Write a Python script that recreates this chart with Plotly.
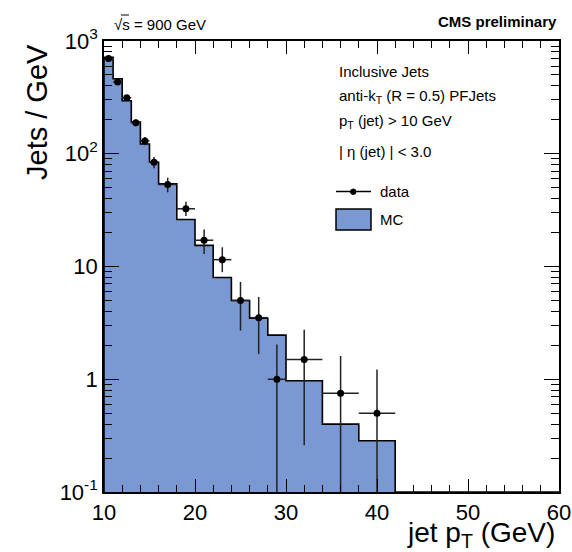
import plotly.graph_objects as go
import numpy as np

# ---- data ----
bin_edges = [10, 11, 12, 13, 14, 15, 16, 18, 20, 22, 24, 26, 28, 30, 34, 38, 42]
mc_values = [716, 463, 295, 191, 122, 84, 54, 26.1, 15.4, 8.0, 5.0, 3.48, 2.46, 0.97, 0.40, 0.285]

data_x = [10.5, 11.5, 12.5, 13.5, 14.5, 15.5, 17, 19, 21, 23, 25, 27, 29, 32, 36, 40]
data_y = [700, 433, 314, 188, 130, 84, 53.4, 32.5, 17.1, 11.5, 5.0, 3.52, 1.0, 1.5, 0.75, 0.5]
data_err_up = [26, 20, 17, 13, 11, 9.5, 7.9, 5.0, 4.2, 3.3, 2.3, 1.85, 1.03, 1.25, 0.86, 0.72]
data_err_down = [26, 20, 17, 13, 11, 9.5, 7.9, 4.5, 4.2, 2.6, 2.3, 1.85, 1.0, 1.24, 0.75, 0.5]

x_tick_vals = [10, 20, 30, 40, 50, 60]
y_tick_vals = [0.1, 1, 10, 100, 1000]
y_tick_text = ["10<sup>-1</sup>", "1", "10", "10<sup>2</sup>", "10<sup>3</sup>"]

# ---- geometry ----
W, H = 572, 552
L, R, T, B = 104, 13, 41, 60
PW, PH = W - L - R, H - T - B
X_MIN, X_MAX = 10, 60
Y_MIN, Y_MAX = 0.1, 1000

def px(xp):
    return (xp - L) / PW

def py(yp):
    return (H - B - yp) / PH

FILL = "#7a98d2"
FONT = "Liberation Sans, Arial, Helvetica, sans-serif"

edges = np.array(bin_edges, dtype=float)
widths = edges[1:] - edges[:-1]
half_w = []
for xv in data_x:
    i = int(np.searchsorted(edges, xv) - 1)
    half_w.append(widths[i] / 2)

fig = go.Figure()

# MC histogram: filled step polygon with black outline
poly_x = [edges[0]] + list(edges[:-1]) + [edges[-1], X_MAX]
poly_y = [Y_MIN] + list(mc_values) + [Y_MIN, Y_MIN]
fig.add_trace(go.Scatter(
    x=poly_x, y=poly_y, mode="lines", fill="toself", fillcolor=FILL,
    line=dict(color="black", width=1.6, shape="hv"),
    hoverinfo="skip", showlegend=False,
))

# data points
fig.add_trace(go.Scatter(
    x=data_x, y=data_y, mode="markers",
    marker=dict(color="black", size=7),
    error_y=dict(type="data", symmetric=False, array=data_err_up, arrayminus=data_err_down,
                 color="#222222", thickness=1.5, width=0),
    error_x=dict(type="data", array=half_w, color="#222222", thickness=1.5, width=0),
    showlegend=False,
))

minor_y = []
for d in [0.1, 1, 10, 100]:
    for k in range(2, 10):
        minor_y.append(d * k)

fig.update_xaxes(
    range=[X_MIN, X_MAX], tickvals=x_tick_vals, ticks="inside", ticklen=13, tickwidth=1.2,
    tickcolor="black", showline=True, linecolor="black", linewidth=1.6, mirror="allticks",
    showgrid=False, zeroline=False, automargin=False,
    tickfont=dict(size=22, color="black", family=FONT),
    minor=dict(dtick=2, tick0=10, ticks="inside", ticklen=7, tickwidth=1.2, tickcolor="black", showgrid=False),
)
fig.update_yaxes(
    type="log", range=[np.log10(Y_MIN), np.log10(Y_MAX)], tickvals=y_tick_vals, ticktext=y_tick_text,
    ticks="inside", ticklen=15, tickwidth=1.2, tickcolor="black",
    showline=True, linecolor="black", linewidth=1.6, mirror="allticks",
    showgrid=False, zeroline=False, automargin=False,
    tickfont=dict(size=22, color="black", family=FONT),
    minor=dict(tickvals=minor_y, ticks="inside", ticklen=8, tickwidth=1.2, tickcolor="black", showgrid=False),
)

ann = []
ann.append(dict(text="√s = 900 GeV", x=px(112), y=py(24), xanchor="left", yanchor="middle",
                font=dict(size=15, family=FONT, color="black")))
ann.append(dict(text="<b>CMS preliminary</b>", x=px(559), y=py(22), xanchor="right", yanchor="middle",
                font=dict(size=15, family=FONT, color="black")))
leg_lines = [
    ("Inclusive Jets", 71),
    ("anti-k<sub>T</sub> (R = 0.5) PFJets", 96),
    ("p<sub>T</sub> (jet) > 10 GeV", 121),
    ("| η (jet) | < 3.0", 151),
]
for txt, yy in leg_lines:
    ann.append(dict(text=txt, x=px(337), y=py(yy), xanchor="left", yanchor="middle",
                    font=dict(size=15, family=FONT, color="black")))
ann.append(dict(text="data", x=px(378), y=py(191), xanchor="left", yanchor="middle",
                font=dict(size=15, family=FONT, color="black")))
ann.append(dict(text="MC", x=px(378), y=py(219), xanchor="left", yanchor="middle",
                font=dict(size=15, family=FONT, color="black")))
ann.append(dict(text="jet p<sub>T</sub> (GeV)", x=px(557), y=py(534), xanchor="right", yanchor="middle",
                font=dict(size=28, family=FONT, color="black")))
ann.append(dict(text="Jets / GeV", x=px(37), y=py(112), xanchor="center", yanchor="middle", textangle=-90,
                font=dict(size=29, family=FONT, color="black")))
for a in ann:
    a.update(xref="paper", yref="paper", showarrow=False)

shapes = [
    # overline of sqrt(s)
    dict(type="line", x0=px(121), x1=px(129), y0=py(15), y1=py(15), line=dict(color="black", width=1)),
    dict(type="line", x0=px(336), x1=px(371), y0=py(191.5), y1=py(191.5), line=dict(color="black", width=1.5)),
    dict(type="circle", x0=px(350.5), x1=px(356), y0=py(189), y1=py(194.5), fillcolor="black", line=dict(color="black", width=1)),
    dict(type="rect", x0=px(336), x1=px(371), y0=py(209), y1=py(230), fillcolor=FILL, line=dict(color="black", width=1.5)),
]
for s in shapes:
    s.update(xref="paper", yref="paper")

fig.update_layout(
    width=W, height=H, margin=dict(l=L, r=R, t=T, b=B, pad=0, autoexpand=False),
    paper_bgcolor="white", plot_bgcolor="white",
    annotations=ann, shapes=shapes, showlegend=False,
    font=dict(family=FONT, color="black"),
)

fig.write_html("out.html")
